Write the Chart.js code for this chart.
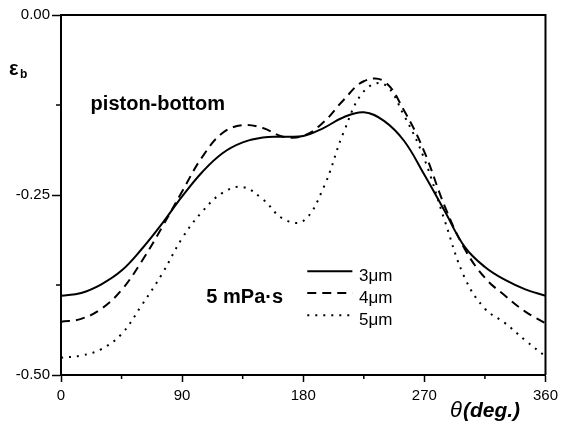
<!DOCTYPE html>
<html><head><meta charset="utf-8">
<script src="https://cdn.jsdelivr.net/npm/chart.js@4"></script>
<style>html,body{margin:0;padding:0;background:#fff}#wrap{width:563px;height:428px}</style>
</head><body><div id="wrap"><canvas id="c" width="563" height="428"></canvas></div>
<script>
const theta  = [0, 15, 30, 45, 60, 75, 90, 105, 120, 135, 150, 165, 180, 195, 210, 225, 240, 255, 270, 285, 300, 315, 330, 345, 360];
const eps3um = [-0.390, -0.386, -0.374, -0.355, -0.325, -0.290, -0.252, -0.218, -0.192, -0.177, -0.170, -0.169, -0.168, -0.157, -0.142, -0.135, -0.147, -0.175, -0.222, -0.272, -0.322, -0.350, -0.368, -0.381, -0.390];
const eps4um = [-0.426, -0.422, -0.408, -0.382, -0.342, -0.295, -0.245, -0.197, -0.164, -0.153, -0.157, -0.169, -0.168, -0.149, -0.118, -0.092, -0.092, -0.133, -0.190, -0.265, -0.325, -0.365, -0.390, -0.412, -0.428];
const eps5um = [-0.476, -0.473, -0.464, -0.443, -0.403, -0.360, -0.310, -0.273, -0.247, -0.239, -0.256, -0.283, -0.286, -0.240, -0.163, -0.106, -0.096, -0.140, -0.200, -0.285, -0.365, -0.408, -0.428, -0.452, -0.474];
const seriesLabels = ['3\u03BCm', '4\u03BCm', '5\u03BCm'];
const xMajorTicks = [0, 90, 180, 270, 360];
const xMinorTicks = [45, 135, 225, 315];
const yMajorTicks = [0, -0.25, -0.5];
const yMinorTicks = [-0.125, -0.375];

const toPts = arr => theta.map((t, i) => ({x: t, y: arr[i]}));
const styles = [[], [9, 6], [2, 6]];
const datasets = [eps3um, eps4um, eps5um].map((arr, i) => ({
  label: seriesLabels[i],
  data: toPts(arr),
  borderColor: '#000',
  borderWidth: 2,
  borderDash: styles[i],
  pointRadius: 0,
  fill: false,
  tension: 0.4
}));

const isMajor = (v, list) => list.some(m => Math.abs(m - v) < 1e-6);

const deco = {
  id: 'deco',
  afterDraw(chart) {
    const ctx = chart.ctx, a = chart.chartArea, xs = chart.scales.x, ys = chart.scales.y;
    ctx.save();
    ctx.strokeStyle = '#000';
    ctx.lineWidth = 2;
    ctx.beginPath();
    ctx.moveTo(a.left, a.top); ctx.lineTo(a.right, a.top); ctx.lineTo(a.right, a.bottom);
    ctx.stroke();
    ctx.lineWidth = 1.5;
    xMinorTicks.forEach(v => { const p = xs.getPixelForValue(v); ctx.beginPath(); ctx.moveTo(p, a.bottom); ctx.lineTo(p, a.bottom + 4); ctx.stroke(); });
    yMinorTicks.forEach(v => { const p = ys.getPixelForValue(v); ctx.beginPath(); ctx.moveTo(a.left - 5, p); ctx.lineTo(a.left, p); ctx.stroke(); });
    // texts
    ctx.fillStyle = '#000';
    ctx.textBaseline = 'middle';
    ctx.textAlign = 'left';
    ctx.font = 'bold 20px "Liberation Sans", Arial, sans-serif';
    ctx.fillText('piston-bottom', xs.getPixelForValue(22), ys.getPixelForValue(-0.124));
    ctx.fillText('5 mPa\u00B7s', xs.getPixelForValue(108), ys.getPixelForValue(-0.393));
    // legend
    const rows = [-0.356, -0.386, -0.417];
    chart.data.datasets.forEach((ds, i) => {
      const y = ys.getPixelForValue(rows[i]);
      ctx.save();
      ctx.lineWidth = ds.borderWidth;
      ctx.setLineDash(ds.borderDash);
      ctx.beginPath();
      ctx.moveTo(xs.getPixelForValue(183), y);
      ctx.lineTo(xs.getPixelForValue(216.5), y);
      ctx.stroke();
      ctx.restore();
      ctx.font = '17px "Liberation Sans", Arial, sans-serif';
      ctx.fillText(ds.label, xs.getPixelForValue(221.5), y + 5);
    });
    // axis titles
    ctx.font = 'bold 20px "Liberation Sans", Arial, sans-serif';
    ctx.fillText('\u03B5', 9, 69);
    ctx.font = 'bold 12px "Liberation Sans", Arial, sans-serif';
    ctx.fillText('b', 20, 75);
    ctx.font = 'italic 22px "Liberation Sans", Arial, sans-serif';
    ctx.fillText('\u03B8', 450, 411);
    const w = ctx.measureText('\u03B8').width;
    ctx.font = 'italic bold 21px "Liberation Sans", Arial, sans-serif';
    ctx.fillText('(deg.)', 450 + w + 1, 411);
    ctx.restore();
  }
};

new Chart(document.getElementById('c'), {
  type: 'line',
  data: { datasets },
  plugins: [deco],
  options: {
    responsive: false,
    animation: false,
    layout: { padding: { top: 15, right: 15, left: 0, bottom: 0 } },
    plugins: { legend: { display: false }, tooltip: { enabled: false } },
    scales: {
      x: {
        type: 'linear', min: 0, max: 360,
        afterFit: s => { s.height = 53; },
        ticks: {
          stepSize: 45, autoSkip: false, maxRotation: 0, padding: 5,
          color: '#000', font: { family: '"Liberation Sans", Arial, sans-serif', size: 15 },
          callback: v => isMajor(v, xMajorTicks) ? String(v) : ''
        },
        grid: { drawOnChartArea: false, tickLength: 7, tickWidth: 1.5,
          tickColor: c => (c.tick && isMajor(c.tick.value, xMajorTicks)) ? '#000' : 'rgba(0,0,0,0)' },
        border: { color: '#000', width: 2 }
      },
      y: {
        type: 'linear', min: -0.5, max: 0,
        afterFit: s => { s.width = 61; },
        ticks: {
          stepSize: 0.125, autoSkip: false, padding: 2,
          color: '#000', font: { family: '"Liberation Sans", Arial, sans-serif', size: 15 },
          callback: v => isMajor(v, yMajorTicks) ? (Math.abs(v) < 1e-9 ? '0.00' : v.toFixed(2)) : ''
        },
        grid: { drawOnChartArea: false, tickLength: 9, tickWidth: 1.5,
          tickColor: c => (c.tick && isMajor(c.tick.value, yMajorTicks)) ? '#000' : 'rgba(0,0,0,0)' },
        border: { color: '#000', width: 2 }
      }
    }
  }
});
</script>
</body></html>
